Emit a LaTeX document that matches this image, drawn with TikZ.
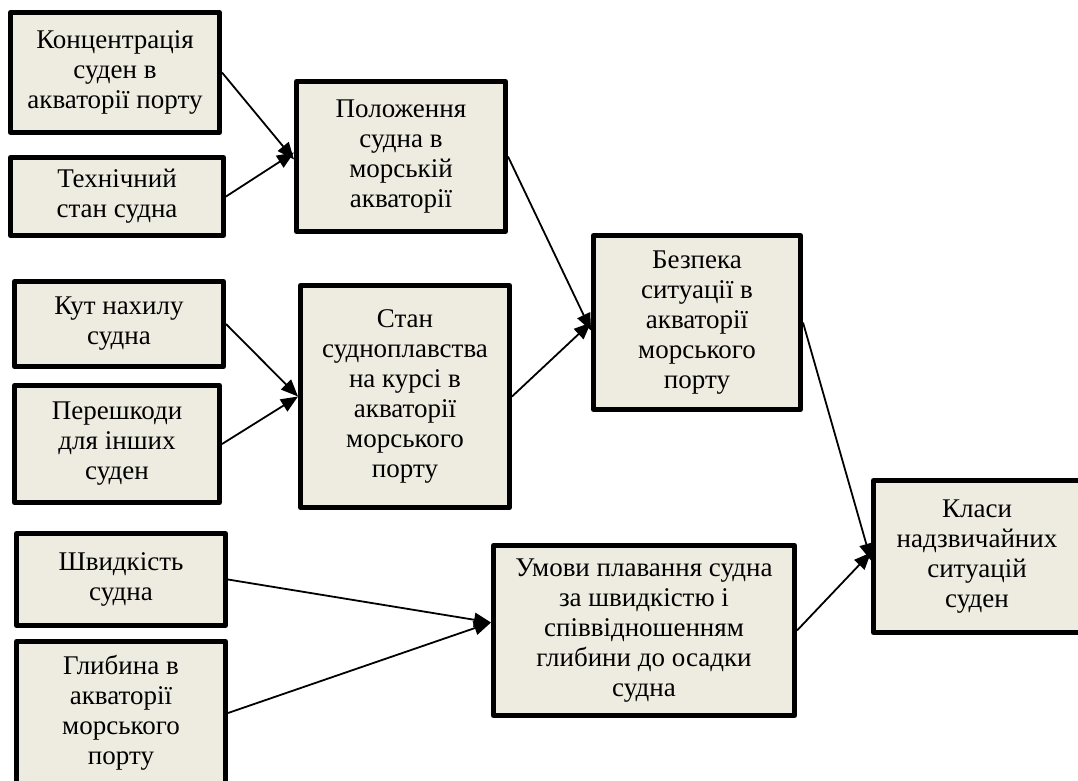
\documentclass[tikz,border=0pt]{standalone}
\usepackage{fontspec}
\setmainfont{Liberation Serif}
\usetikzlibrary{arrows.meta}
\definecolor{boxfill}{HTML}{EEECE1}
\begin{document}
\begin{tikzpicture}[x=1pt,y=-1pt,
  box/.style={draw=black, fill=boxfill, line width=5pt, line join=round,
    align=center, inner sep=0pt, text=black,
    font=\fontsize{27}{30}\selectfont},
  arr/.style={line width=1.8pt, -{Triangle[length=17pt,width=14pt]}}]
\useasboundingbox (0,0) rectangle (1078,781);
\clip (0,0) rectangle (1078,781);
% left column
\node[box, minimum width=209pt, minimum height=120pt] (A) at (115,72.5)
  {Концентрація\\суден в\\акваторії порту};
\node[box, minimum width=213pt, minimum height=78pt] (B) at (117,196.5)
  {Технічний\\стан судна};
\node[box, minimum width=209pt, minimum height=85pt] (E) at (119,324)
  {Кут нахилу\\судна};
\node[box, minimum width=205pt, minimum height=117pt] (F) at (117,444)
  {Перешкоди\\для інших\\суден};
\node[box, minimum width=209pt, minimum height=92pt] (H) at (121,579.5)
  {Швидкість\\судна};
\node[box, minimum width=209pt, minimum height=143pt] (I) at (121,713)
  {Глибина в\\акваторії\\морського\\порту};
% middle column
\node[box, minimum width=209pt, minimum height=150pt] (C) at (401,156.5)
  {Положення\\судна в\\морській\\акваторії};
\node[box, minimum width=209pt, minimum height=222pt] (G) at (405,396.5)
  {Стан\\судноплавства\\на курсі в\\акваторії\\морського\\порту};
\node[box, minimum width=301pt, minimum height=170pt] (J) at (644,630.5)
  {Умови плавання судна\\за швидкістю і\\співвідношенням\\глибини до осадки\\судна};
% right
\node[box, minimum width=207pt, minimum height=174pt] (D) at (697,322.5)
  {Безпека\\ситуації в\\акваторії\\морського\\порту};
\node[box, minimum width=207pt, minimum height=152pt] (K) at (977,556.5)
  {Класи\\надзвичайних\\ситуацій\\суден};
% connectors
\draw[arr] (A.east) -- ([yshift=-3pt]C.west);
\draw[arr] (B.east) -- ([yshift=4pt]C.west);
\draw[arr] (E.east) -- (G.west);
\draw[arr] (F.east) -- (G.west);
\draw[arr] (C.east) -- ([yshift=-8pt]D.west);
\draw[arr] (G.east) -- (D.west);
\draw[arr] (H.east) -- ([yshift=8pt]J.west);
\draw[arr] (I.east) -- ([yshift=8pt]J.west);
\draw[arr] (D.east) -- ([yshift=-4pt]K.west);
\draw[arr] (J.east) -- ([yshift=4pt]K.west);
\end{tikzpicture}
\end{document}
